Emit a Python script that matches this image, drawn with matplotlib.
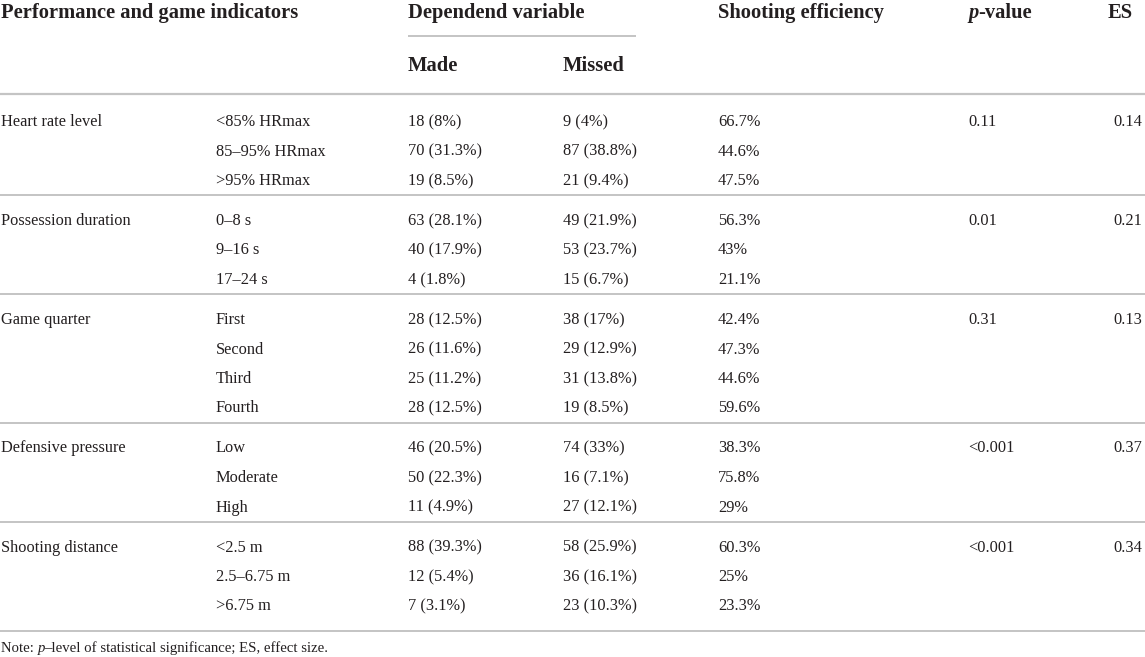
import matplotlib.pyplot as plt

plt.rcParams['font.family'] = ['Liberation Serif', 'DejaVu Serif']

# table content
groups = ["Heart rate level", "Possession duration", "Game quarter",
          "Defensive pressure", "Shooting distance"]
levels = [["<85% HRmax", "85–95% HRmax", ">95% HRmax"],
          ["0–8 s", "9–16 s", "17–24 s"],
          ["First", "Second", "Third", "Fourth"],
          ["Low", "Moderate", "High"],
          ["<2.5 m", "2.5–6.75 m", ">6.75 m"]]
made = [["18 (8%)", "70 (31.3%)", "19 (8.5%)"],
        ["63 (28.1%)", "40 (17.9%)", "4 (1.8%)"],
        ["28 (12.5%)", "26 (11.6%)", "25 (11.2%)", "28 (12.5%)"],
        ["46 (20.5%)", "50 (22.3%)", "11 (4.9%)"],
        ["88 (39.3%)", "12 (5.4%)", "7 (3.1%)"]]
missed = [["9 (4%)", "87 (38.8%)", "21 (9.4%)"],
          ["49 (21.9%)", "53 (23.7%)", "15 (6.7%)"],
          ["38 (17%)", "29 (12.9%)", "31 (13.8%)", "19 (8.5%)"],
          ["74 (33%)", "16 (7.1%)", "27 (12.1%)"],
          ["58 (25.9%)", "36 (16.1%)", "23 (10.3%)"]]
efficiency = [["66.7%", "44.6%", "47.5%"],
              ["56.3%", "43%", "21.1%"],
              ["42.4%", "47.3%", "44.6%", "59.6%"],
              ["38.3%", "75.8%", "29%"],
              ["60.3%", "25%", "23.3%"]]
p_values = ["0.11", "0.01", "0.31", "<0.001", "<0.001"]
effect_sizes = ["0.14", "0.21", "0.13", "0.37", "0.34"]

W, H = 1145, 657
fig = plt.figure(figsize=(W / 100, H / 100), dpi=100)
ax = fig.add_axes([0, 0, 1, 1])
ax.set_xlim(0, W)
ax.set_ylim(H, 0)
ax.axis("off")

txt_col = "#231f20"
line_col = "#c4c4c4"
body = 11.8
head = 14.8

col_x = [1, 216, 408, 563, 718, 968, 1113]

# header
ax.text(col_x[0], 13, "Performance and game indicators", fontsize=head,
        fontweight="bold", color=txt_col, va="center")
ax.text(col_x[2], 13, "Dependend variable", fontsize=head,
        fontweight="bold", color=txt_col, va="center")
ax.text(col_x[4], 13, "Shooting efficiency", fontsize=head,
        fontweight="bold", color=txt_col, va="center")
fig.canvas.draw()
r = fig.canvas.get_renderer()
t = ax.text(col_x[5], 13, "p", fontsize=head, fontweight="bold",
            fontstyle="italic", color=txt_col, va="center")
bb = t.get_window_extent(r)
ax.text(col_x[5] + bb.width, 13, "-value", fontsize=head,
        fontweight="bold", color=txt_col, va="center")
ax.text(1108, 13, "ES", fontsize=head, fontweight="bold",
        color=txt_col, va="center")
ax.plot([408, 636], [36, 36], color=line_col, lw=1.4, solid_capstyle="butt")
ax.text(col_x[2], 66, "Made", fontsize=head, fontweight="bold",
        color=txt_col, va="center")
ax.text(col_x[3], 66, "Missed", fontsize=head, fontweight="bold",
        color=txt_col, va="center")
ax.plot([0, W], [94, 94], color=line_col, lw=1.6, solid_capstyle="butt")

# body
y = 122
step = 29.5
for g in range(len(groups)):
    ax.text(col_x[0], y, groups[g], fontsize=body, color=txt_col, va="center")
    ax.text(col_x[5], y, p_values[g], fontsize=body, color=txt_col, va="center")
    ax.text(col_x[6], y, effect_sizes[g], fontsize=body, color=txt_col, va="center")
    for i in range(len(levels[g])):
        yy = y + i * step
        ax.text(col_x[1], yy, levels[g][i], fontsize=body, color=txt_col, va="center")
        ax.text(col_x[2], yy, made[g][i], fontsize=body, color=txt_col, va="center")
        ax.text(col_x[3], yy, missed[g][i], fontsize=body, color=txt_col, va="center")
        ax.text(col_x[4], yy, efficiency[g][i], fontsize=body, color=txt_col, va="center")
    last = y + (len(levels[g]) - 1) * step
    if g < len(groups) - 1:
        ax.plot([0, W], [last + 14, last + 14], color=line_col, lw=1.4,
                solid_capstyle="butt")
        y = last + 40
    else:
        ax.plot([0, W], [last + 24, last + 24], color=line_col, lw=1.4,
                solid_capstyle="butt")
        note_y = last + 42

# note
fig.canvas.draw()
x = 1
for s, style in [("Note: ", "normal"), ("p", "italic"),
                 ("–level of statistical significance; ES, effect size.", "normal")]:
    t = ax.text(x, note_y, s, fontsize=10.6, fontstyle=style, color=txt_col, va="center")
    x += t.get_window_extent(r).width - (1 if style == "italic" else 0)

fig.savefig("out.png", dpi=100)
